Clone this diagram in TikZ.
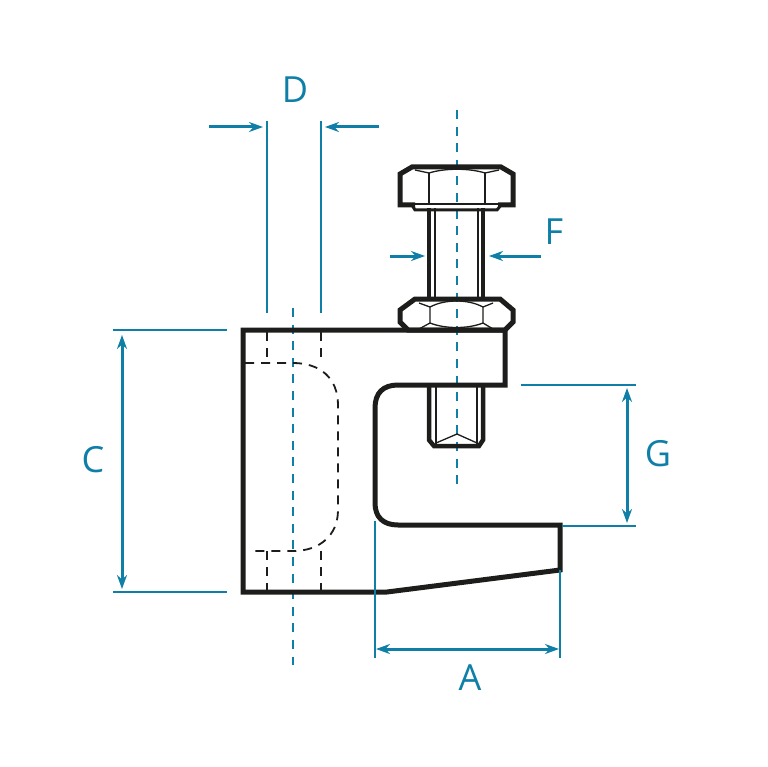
\documentclass[tikz,border=0pt]{standalone}
\usepackage{fontspec}
\setmainfont{Open Sans}
\usetikzlibrary{arrows.meta}
\definecolor{dimblue}{HTML}{0F7FA8}
\definecolor{inkblack}{HTML}{1D1D1B}

\begin{document}
\begin{tikzpicture}[
    x=1pt, y=-1pt,
    every node/.style={font=\fontsize{36}{36}\selectfont, text=dimblue},
    outline/.style={draw=inkblack, line width=5pt, line join=miter},
    thinline/.style={draw=inkblack, line width=1.3pt},
    hidden/.style={draw=inkblack, line width=1.8pt, dash pattern=on 9pt off 7pt},
    axis/.style={draw=dimblue, line width=1.7pt, dash pattern=on 9pt off 7.6pt},
    extline/.style={draw=dimblue, line width=1.4pt},
    arrow/.style={-{Stealth[length=14pt, width=10pt]}, draw=dimblue, line width=3pt},
    darrow/.style={{Stealth[length=14pt, width=10pt]}-{Stealth[length=14pt, width=10pt]}, draw=dimblue, line width=3pt}
]
\useasboundingbox (0,0) rectangle (767,767);

% --- Center lines ---
\draw[axis] (457,110) -- (457,485);
\draw[axis] (293,308) -- (293,665);

% --- Hidden hole ---
\draw[hidden] (267,332) -- (267,363);
\draw[hidden] (321,332) -- (321,363);
\draw[hidden] (245,363) -- (293,363) .. controls (320,363) and (338,378) .. (338,405) -- (338,510)
  .. controls (338,535) and (320,551) .. (293,551) -- (255,551);
\draw[hidden] (267,551) -- (267,590);
\draw[hidden] (321,551) -- (321,590);

% --- Bolt shank ---
\draw[outline, line width=4.5pt] (429,208) -- (429,298);
\draw[outline, line width=4.5pt] (483,208) -- (483,298);
\draw[thinline] (435,208) -- (435,298);
\draw[thinline] (478,208) -- (478,298);
\draw[outline, line width=4.5pt] (429,385) -- (429,440) -- (434,446) -- (479,446) -- (483,440) -- (483,385);
\draw[thinline] (436,385) -- (436,444);
\draw[thinline] (477,385) -- (477,444);
\draw[thinline] (436,443) -- (457,434) -- (477,443);

% --- Bolt head ---
\draw[outline] (415,205) -- (400,205) -- (400,174) -- (412,167) -- (501,167) -- (513,174) -- (513,205) -- (498,205);
\draw[outline, line width=3pt] (412,205) -- (415,210) -- (497,210) -- (501,205);
\draw[thinline] (429,173) -- (429,204);
\draw[thinline] (485,173) -- (485,204);
\draw[thinline] (415,170) -- (429,173) .. controls (445,168) and (469,168) .. (485,173) -- (499,170);
\draw[thinline] (414,204) -- (499,204);

% --- Nut ---
\draw[outline] (415,299) -- (500,299) -- (513,310) -- (513,322) -- (505,330) -- (408,330) -- (400,322) -- (400,310) -- cycle;
\draw[thinline] (419,303) -- (430,307) -- (430,323) -- (419,329);
\draw[thinline] (493,303) -- (483,307) -- (483,323) -- (493,329);
\draw[thinline] (430,307) .. controls (445,299) and (468,299) .. (483,307);
\draw[thinline] (430,323) .. controls (445,329) and (468,329) .. (483,323);

% --- Clamp body ---
\draw[outline] (243,330) -- (505,330) -- (505,385) -- (398,385)
  .. controls (383,385) and (375,393) .. (375,408) -- (375,503)
  .. controls (375,517) and (383,525) .. (398,525) -- (560,525) -- (560,570) -- (387,592) -- (243,592) -- cycle;

% --- Dimension D ---
\draw[extline] (267,121) -- (267,313);
\draw[extline] (321,121) -- (321,313);
\draw[arrow] (209,127) -- (263,127);
\draw[arrow] (379,127) -- (325,127);
\node (labelD) at (295,90) {D};

% --- Dimension F ---
\draw[arrow] (390,256) -- (425,256);
\draw[arrow] (541,256) -- (489,256);
\node (labelF) at (554,232) {F};

% --- Dimension C ---
\draw[extline] (113,330) -- (227,330);
\draw[extline] (113,592) -- (227,592);
\draw[darrow] (122,335) -- (122,589);
\node (labelC) at (93,460) {C};

% --- Dimension G ---
\draw[extline] (521,385) -- (636,385);
\draw[extline] (562,526) -- (636,526);
\draw[darrow] (627,388) -- (627,523);
\node (labelG) at (658,454) {G};

% --- Dimension A ---
\draw[extline] (375,521) -- (375,658);
\draw[extline] (560,570) -- (560,658);
\draw[darrow] (376,649) -- (559,649);
\node (labelA) at (470,678) {A};

\end{tikzpicture}
\end{document}
